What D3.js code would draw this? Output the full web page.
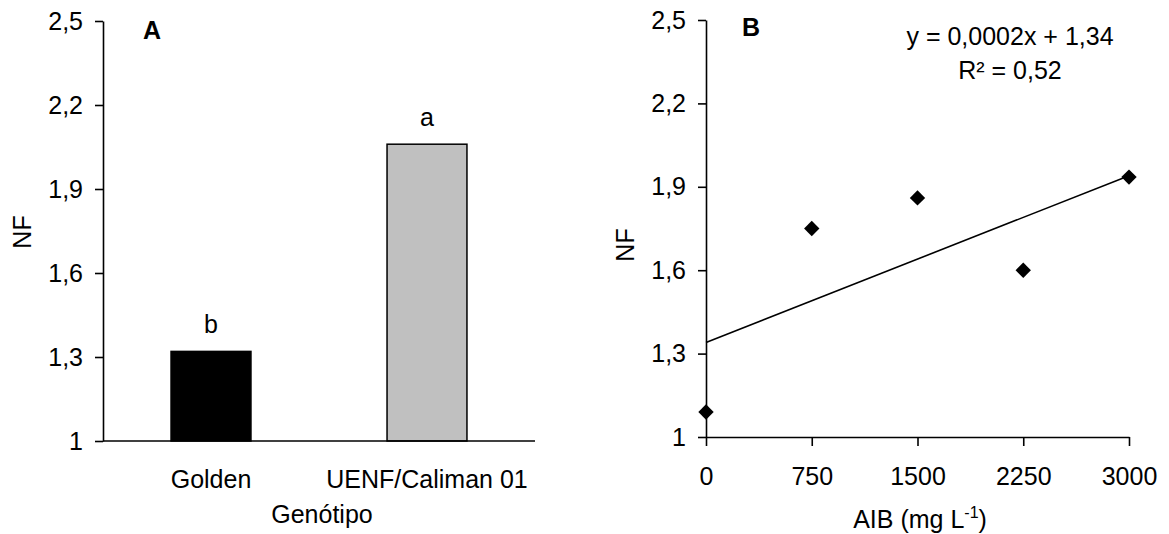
<!DOCTYPE html>
<html>
<head>
<meta charset="utf-8">
<script src="https://cdn.jsdelivr.net/npm/d3@7/dist/d3.min.js"></script>
<style>
  html, body { margin: 0; padding: 0; background: #fff; }
  svg text { font-family: "Liberation Sans", Arial, sans-serif; fill: #000; }
</style>
</head>
<body>
<svg id="chart" width="1169" height="534"></svg>
<script>
// Panel A: number of fruits (NF) by genotype
const genotypes = ["Golden", "UENF/Caliman 01"];
const nfByGenotype = [1.32, 2.06];
const genotypeLetters = ["b", "a"];
const genotypeColors = ["#000000", "#c0c0c0"];

// Panel B: NF against IBA dose
const ibaDoses = [0, 750, 1500, 2250, 3000];
const nfByDose = [1.09, 1.75, 1.86, 1.60, 1.935];
const fitSlope = 0.0002;
const fitIntercept = 1.34;
const fitEquation = "y = 0,0002x + 1,34";
const fitR2 = "R² = 0,52";

const yTicks = [1, 1.3, 1.6, 1.9, 2.2, 2.5];
const xTicksB = [0, 750, 1500, 2250, 3000];

const fmt = v => String(v).replace(".", ",");
const svg = d3.select("#chart");
const FS = 25;

function styleAxis(g) {
  g.select(".domain").attr("stroke", "#000").attr("stroke-width", 1.6);
  g.selectAll(".tick line").attr("stroke", "#000").attr("stroke-width", 1.6);
  g.selectAll(".tick text").attr("font-size", FS).attr("fill", "#000")
    .attr("font-family", '"Liberation Sans", Arial, sans-serif');
}

// ---------- Panel A ----------
{
  const left = 103, right = 535, top = 21, bottom = 441;
  const y = d3.scaleLinear().domain([1, 2.5]).range([bottom, top]);
  const x = d3.scaleBand().domain(genotypes).range([left, right]).paddingInner(0.63).paddingOuter(0.315);

  const gy = svg.append("g").attr("transform", `translate(${left},0)`)
    .call(d3.axisLeft(y).tickValues(yTicks).tickFormat(fmt).tickSize(8).tickPadding(12).tickSizeOuter(0));
  styleAxis(gy);

  svg.selectAll(".barA").data(genotypes).join("rect")
    .attr("x", d => x(d))
    .attr("width", x.bandwidth())
    .attr("y", (d, i) => y(nfByGenotype[i]))
    .attr("height", (d, i) => y(1) - y(nfByGenotype[i]))
    .attr("fill", (d, i) => genotypeColors[i])
    .attr("stroke", "#000").attr("stroke-width", 1.5);

  svg.append("line").attr("x1", left).attr("x2", right).attr("y1", bottom).attr("y2", bottom)
    .attr("stroke", "#000").attr("stroke-width", 1.6);

  svg.selectAll(".letterA").data(genotypes).join("text")
    .attr("x", d => x(d) + x.bandwidth() / 2)
    .attr("y", (d, i) => y(nfByGenotype[i]) - 18)
    .attr("text-anchor", "middle").attr("font-size", FS)
    .text((d, i) => genotypeLetters[i]);

  svg.selectAll(".catA").data(genotypes).join("text")
    .attr("x", d => x(d) + x.bandwidth() / 2)
    .attr("y", 488)
    .attr("text-anchor", "middle").attr("font-size", FS)
    .text(d => d);

  svg.append("text").attr("x", 322).attr("y", 523).attr("text-anchor", "middle")
    .attr("font-size", FS).text("Genótipo");

  svg.append("text").attr("transform", "translate(31,232) rotate(-90)")
    .attr("text-anchor", "middle").attr("font-size", FS).text("NF");

  svg.append("text").attr("x", 143).attr("y", 39).attr("font-size", FS)
    .attr("font-weight", "bold").text("A");
}

// ---------- Panel B ----------
{
  const left = 706, right = 1129, top = 20, bottom = 437;
  const y = d3.scaleLinear().domain([1, 2.5]).range([bottom, top]);
  const x = d3.scaleLinear().domain([0, 3000]).range([left, right]);

  const gy = svg.append("g").attr("transform", `translate(${left},0)`)
    .call(d3.axisLeft(y).tickValues(yTicks).tickFormat(fmt).tickSize(8).tickPadding(12).tickSizeOuter(0));
  styleAxis(gy);

  const gx = svg.append("g").attr("transform", `translate(0,${bottom})`)
    .call(d3.axisBottom(x).tickValues(xTicksB).tickFormat(d => d).tickSize(9).tickPadding(21).tickSizeOuter(0));
  styleAxis(gx);

  // fitted trend line from the reported equation
  const fit = d3.line().x(d => x(d)).y(d => y(fitSlope * d + fitIntercept));
  svg.append("path").datum([0, 3000]).attr("d", fit)
    .attr("fill", "none").attr("stroke", "#000").attr("stroke-width", 1.6);

  const diamond = d3.symbol().type(d3.symbolSquare).size(118);
  svg.selectAll(".ptB").data(ibaDoses).join("path")
    .attr("d", diamond)
    .attr("transform", (d, i) => `translate(${x(d)},${y(nfByDose[i])}) rotate(45)`)
    .attr("fill", "#000");

  svg.append("text").attr("x", 1010).attr("y", 45).attr("text-anchor", "middle")
    .attr("font-size", FS).text(fitEquation);
  svg.append("text").attr("x", 1010).attr("y", 79).attr("text-anchor", "middle")
    .attr("font-size", FS).text(fitR2);

  const xl = svg.append("text").attr("x", 920).attr("y", 528).attr("text-anchor", "middle")
    .attr("font-size", FS);
  xl.append("tspan").text("AIB (mg L");
  xl.append("tspan").attr("font-size", 16).attr("dy", -10).text("-1");
  xl.append("tspan").attr("dy", 10).text(")");

  svg.append("text").attr("transform", "translate(634,245) rotate(-90)")
    .attr("text-anchor", "middle").attr("font-size", FS).text("NF");

  svg.append("text").attr("x", 742).attr("y", 36).attr("font-size", FS)
    .attr("font-weight", "bold").text("B");
}
</script>
</body>
</html>
